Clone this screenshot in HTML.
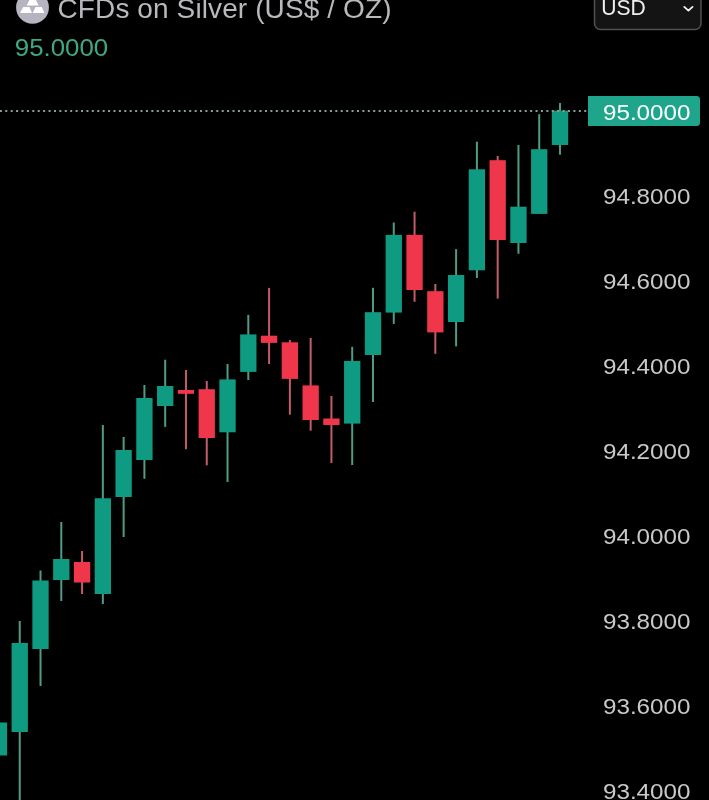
<!DOCTYPE html>
<html><head><meta charset="utf-8"><style>
html,body{margin:0;padding:0;background:#000;width:709px;height:800px;overflow:hidden}
svg{position:absolute;left:0;top:0;display:block;will-change:transform}
text{font-family:"Liberation Sans",sans-serif}
</style></head><body>
<svg width="709" height="800" viewBox="0 0 709 800">
<rect width="709" height="800" fill="#000"/>
<rect x="-2.05" y="722.50" width="2.0" height="33.00" fill="#4e9c86"/>
<rect x="-9.20" y="722.50" width="16.3" height="33.00" fill="#0f9b81"/>
<rect x="18.73" y="621.00" width="2.0" height="184.00" fill="#4e9c86"/>
<rect x="11.58" y="643.00" width="16.3" height="89.00" fill="#0f9b81"/>
<rect x="39.51" y="570.50" width="2.0" height="115.50" fill="#4e9c86"/>
<rect x="32.36" y="580.50" width="16.3" height="68.50" fill="#0f9b81"/>
<rect x="60.29" y="522.00" width="2.0" height="79.00" fill="#4e9c86"/>
<rect x="53.14" y="559.00" width="16.3" height="21.00" fill="#0f9b81"/>
<rect x="81.07" y="551.00" width="2.0" height="43.00" fill="#c25c68"/>
<rect x="73.92" y="562.00" width="16.3" height="20.50" fill="#f0364a"/>
<rect x="101.85" y="425.00" width="2.0" height="179.00" fill="#4e9c86"/>
<rect x="94.70" y="498.25" width="16.3" height="95.75" fill="#0f9b81"/>
<rect x="122.63" y="437.00" width="2.0" height="100.00" fill="#4e9c86"/>
<rect x="115.48" y="450.00" width="16.3" height="47.00" fill="#0f9b81"/>
<rect x="143.41" y="385.00" width="2.0" height="93.80" fill="#4e9c86"/>
<rect x="136.26" y="398.00" width="16.3" height="62.00" fill="#0f9b81"/>
<rect x="164.19" y="359.70" width="2.0" height="67.20" fill="#4e9c86"/>
<rect x="157.04" y="386.00" width="16.3" height="20.00" fill="#0f9b81"/>
<rect x="184.97" y="370.00" width="2.0" height="79.20" fill="#c25c68"/>
<rect x="177.82" y="390.00" width="16.3" height="3.80" fill="#f0364a"/>
<rect x="205.75" y="381.00" width="2.0" height="84.30" fill="#c25c68"/>
<rect x="198.60" y="389.20" width="16.3" height="48.80" fill="#f0364a"/>
<rect x="226.53" y="364.00" width="2.0" height="118.00" fill="#4e9c86"/>
<rect x="219.38" y="379.40" width="16.3" height="52.90" fill="#0f9b81"/>
<rect x="247.31" y="314.90" width="2.0" height="65.10" fill="#4e9c86"/>
<rect x="240.16" y="334.40" width="16.3" height="37.50" fill="#0f9b81"/>
<rect x="268.09" y="287.90" width="2.0" height="76.10" fill="#c25c68"/>
<rect x="260.94" y="335.70" width="16.3" height="7.20" fill="#f0364a"/>
<rect x="288.87" y="340.00" width="2.0" height="74.70" fill="#c25c68"/>
<rect x="281.72" y="342.30" width="16.3" height="36.60" fill="#f0364a"/>
<rect x="309.65" y="338.00" width="2.0" height="92.70" fill="#c25c68"/>
<rect x="302.50" y="385.40" width="16.3" height="34.60" fill="#f0364a"/>
<rect x="330.43" y="396.00" width="2.0" height="67.00" fill="#c25c68"/>
<rect x="323.28" y="418.50" width="16.3" height="6.50" fill="#f0364a"/>
<rect x="351.21" y="346.80" width="2.0" height="118.20" fill="#4e9c86"/>
<rect x="344.06" y="360.90" width="16.3" height="62.70" fill="#0f9b81"/>
<rect x="371.99" y="287.80" width="2.0" height="114.20" fill="#4e9c86"/>
<rect x="364.84" y="312.20" width="16.3" height="42.80" fill="#0f9b81"/>
<rect x="392.77" y="222.50" width="2.0" height="101.40" fill="#4e9c86"/>
<rect x="385.62" y="234.90" width="16.3" height="77.70" fill="#0f9b81"/>
<rect x="413.55" y="211.70" width="2.0" height="90.10" fill="#c25c68"/>
<rect x="406.40" y="234.90" width="16.3" height="55.10" fill="#f0364a"/>
<rect x="434.33" y="284.00" width="2.0" height="69.80" fill="#c25c68"/>
<rect x="427.18" y="291.20" width="16.3" height="41.20" fill="#f0364a"/>
<rect x="455.11" y="249.10" width="2.0" height="97.30" fill="#4e9c86"/>
<rect x="447.96" y="275.00" width="16.3" height="47.00" fill="#0f9b81"/>
<rect x="475.89" y="141.70" width="2.0" height="136.30" fill="#4e9c86"/>
<rect x="468.74" y="169.30" width="16.3" height="101.00" fill="#0f9b81"/>
<rect x="496.67" y="156.00" width="2.0" height="142.60" fill="#c25c68"/>
<rect x="489.52" y="160.20" width="16.3" height="79.80" fill="#f0364a"/>
<rect x="517.45" y="145.00" width="2.0" height="108.80" fill="#4e9c86"/>
<rect x="510.30" y="206.70" width="16.3" height="36.30" fill="#0f9b81"/>
<rect x="538.23" y="114.20" width="2.0" height="99.70" fill="#4e9c86"/>
<rect x="531.08" y="149.20" width="16.3" height="64.70" fill="#0f9b81"/>
<rect x="559.01" y="103.00" width="2.0" height="51.70" fill="#4e9c86"/>
<rect x="551.86" y="110.60" width="16.3" height="34.40" fill="#0f9b81"/>
<g fill="#8a9f99">
<rect x="-0.15" y="110" width="2" height="2"/>
<rect x="5.26" y="110" width="2" height="2"/>
<rect x="10.67" y="110" width="2" height="2"/>
<rect x="16.08" y="110" width="2" height="2"/>
<rect x="21.49" y="110" width="2" height="2"/>
<rect x="26.91" y="110" width="2" height="2"/>
<rect x="32.32" y="110" width="2" height="2"/>
<rect x="37.73" y="110" width="2" height="2"/>
<rect x="43.14" y="110" width="2" height="2"/>
<rect x="48.55" y="110" width="2" height="2"/>
<rect x="53.96" y="110" width="2" height="2"/>
<rect x="59.37" y="110" width="2" height="2"/>
<rect x="64.78" y="110" width="2" height="2"/>
<rect x="70.19" y="110" width="2" height="2"/>
<rect x="75.60" y="110" width="2" height="2"/>
<rect x="81.01" y="110" width="2" height="2"/>
<rect x="86.43" y="110" width="2" height="2"/>
<rect x="91.84" y="110" width="2" height="2"/>
<rect x="97.25" y="110" width="2" height="2"/>
<rect x="102.66" y="110" width="2" height="2"/>
<rect x="108.07" y="110" width="2" height="2"/>
<rect x="113.48" y="110" width="2" height="2"/>
<rect x="118.89" y="110" width="2" height="2"/>
<rect x="124.30" y="110" width="2" height="2"/>
<rect x="129.71" y="110" width="2" height="2"/>
<rect x="135.12" y="110" width="2" height="2"/>
<rect x="140.54" y="110" width="2" height="2"/>
<rect x="145.95" y="110" width="2" height="2"/>
<rect x="151.36" y="110" width="2" height="2"/>
<rect x="156.77" y="110" width="2" height="2"/>
<rect x="162.18" y="110" width="2" height="2"/>
<rect x="167.59" y="110" width="2" height="2"/>
<rect x="173.00" y="110" width="2" height="2"/>
<rect x="178.41" y="110" width="2" height="2"/>
<rect x="183.82" y="110" width="2" height="2"/>
<rect x="189.23" y="110" width="2" height="2"/>
<rect x="194.65" y="110" width="2" height="2"/>
<rect x="200.06" y="110" width="2" height="2"/>
<rect x="205.47" y="110" width="2" height="2"/>
<rect x="210.88" y="110" width="2" height="2"/>
<rect x="216.29" y="110" width="2" height="2"/>
<rect x="221.70" y="110" width="2" height="2"/>
<rect x="227.11" y="110" width="2" height="2"/>
<rect x="232.52" y="110" width="2" height="2"/>
<rect x="237.93" y="110" width="2" height="2"/>
<rect x="243.34" y="110" width="2" height="2"/>
<rect x="248.76" y="110" width="2" height="2"/>
<rect x="254.17" y="110" width="2" height="2"/>
<rect x="259.58" y="110" width="2" height="2"/>
<rect x="264.99" y="110" width="2" height="2"/>
<rect x="270.40" y="110" width="2" height="2"/>
<rect x="275.81" y="110" width="2" height="2"/>
<rect x="281.22" y="110" width="2" height="2"/>
<rect x="286.63" y="110" width="2" height="2"/>
<rect x="292.04" y="110" width="2" height="2"/>
<rect x="297.45" y="110" width="2" height="2"/>
<rect x="302.87" y="110" width="2" height="2"/>
<rect x="308.28" y="110" width="2" height="2"/>
<rect x="313.69" y="110" width="2" height="2"/>
<rect x="319.10" y="110" width="2" height="2"/>
<rect x="324.51" y="110" width="2" height="2"/>
<rect x="329.92" y="110" width="2" height="2"/>
<rect x="335.33" y="110" width="2" height="2"/>
<rect x="340.74" y="110" width="2" height="2"/>
<rect x="346.15" y="110" width="2" height="2"/>
<rect x="351.56" y="110" width="2" height="2"/>
<rect x="356.98" y="110" width="2" height="2"/>
<rect x="362.39" y="110" width="2" height="2"/>
<rect x="367.80" y="110" width="2" height="2"/>
<rect x="373.21" y="110" width="2" height="2"/>
<rect x="378.62" y="110" width="2" height="2"/>
<rect x="384.03" y="110" width="2" height="2"/>
<rect x="389.44" y="110" width="2" height="2"/>
<rect x="394.85" y="110" width="2" height="2"/>
<rect x="400.26" y="110" width="2" height="2"/>
<rect x="405.68" y="110" width="2" height="2"/>
<rect x="411.09" y="110" width="2" height="2"/>
<rect x="416.50" y="110" width="2" height="2"/>
<rect x="421.91" y="110" width="2" height="2"/>
<rect x="427.32" y="110" width="2" height="2"/>
<rect x="432.73" y="110" width="2" height="2"/>
<rect x="438.14" y="110" width="2" height="2"/>
<rect x="443.55" y="110" width="2" height="2"/>
<rect x="448.96" y="110" width="2" height="2"/>
<rect x="454.37" y="110" width="2" height="2"/>
<rect x="459.78" y="110" width="2" height="2"/>
<rect x="465.20" y="110" width="2" height="2"/>
<rect x="470.61" y="110" width="2" height="2"/>
<rect x="476.02" y="110" width="2" height="2"/>
<rect x="481.43" y="110" width="2" height="2"/>
<rect x="486.84" y="110" width="2" height="2"/>
<rect x="492.25" y="110" width="2" height="2"/>
<rect x="497.66" y="110" width="2" height="2"/>
<rect x="503.07" y="110" width="2" height="2"/>
<rect x="508.48" y="110" width="2" height="2"/>
<rect x="513.89" y="110" width="2" height="2"/>
<rect x="519.31" y="110" width="2" height="2"/>
<rect x="524.72" y="110" width="2" height="2"/>
<rect x="530.13" y="110" width="2" height="2"/>
<rect x="535.54" y="110" width="2" height="2"/>
<rect x="540.95" y="110" width="2" height="2"/>
<rect x="546.36" y="110" width="2" height="2"/>
<rect x="551.77" y="110" width="2" height="2"/>
<rect x="557.18" y="110" width="2" height="2"/>
<rect x="562.59" y="110" width="2" height="2"/>
<rect x="568.00" y="110" width="2" height="2"/>
<rect x="573.42" y="110" width="2" height="2"/>
<rect x="578.83" y="110" width="2" height="2"/>
<rect x="584.24" y="110" width="2" height="2"/>
</g>
<!-- last price label -->
<path d="M588 96 H696.5 A3.5 3.5 0 0 1 700 99.5 V122.5 A3.5 3.5 0 0 1 696.5 126 H588 Z" fill="#1fa58c"/>
<text transform="translate(603.0,119.5) scale(1.1,1)" fill="#ffffff" font-size="22">95.0000</text>
<g fill="#c9c9cc" font-size="22">
<text transform="translate(603.0,204.00) scale(1.1,1)">94.8000</text>
<text transform="translate(603.0,288.93) scale(1.1,1)">94.6000</text>
<text transform="translate(603.0,373.86) scale(1.1,1)">94.4000</text>
<text transform="translate(603.0,458.79) scale(1.1,1)">94.2000</text>
<text transform="translate(603.0,543.72) scale(1.1,1)">94.0000</text>
<text transform="translate(603.0,628.65) scale(1.1,1)">93.8000</text>
<text transform="translate(603.0,713.58) scale(1.1,1)">93.6000</text>
<text transform="translate(603.0,798.51) scale(1.1,1)">93.4000</text>
</g>
<!-- header -->
<circle cx="32.5" cy="7.4" r="16.4" fill="#b5b4c0"/>
<g fill="#ffffff">
<path d="M26.7 5.5 L38.6 5.5 L35.8 -0.3 L29.6 -0.3 Z"/>
<path d="M20 12.9 L32 12.9 L29.5 7.1 L23.3 7.1 Z"/>
<path d="M32.7 12.9 L44.3 12.9 L41.8 7.1 L35.6 7.1 Z"/>
</g>
<text x="57.5" y="17.8" font-size="28" fill="#b9b9bd" textLength="334" lengthAdjust="spacing">CFDs on Silver (US$ / OZ)</text>
<text transform="translate(14.8,55.9) scale(1.10,1)" font-size="23.5" fill="#3ea884">95.0000</text>
<!-- USD dropdown -->
<rect x="594.5" y="-8" width="106.5" height="37.5" rx="6" ry="6" fill="#141414" stroke="#505050" stroke-width="1.5"/>
<text transform="translate(601.3,14.9) scale(0.96,1)" font-size="22" fill="#f0f0f0">USD</text>
<path d="M684.3 6.9 L688.4 10.6 L692.5 6.9" fill="none" stroke="#f0f0f0" stroke-width="1.9" stroke-linecap="round" stroke-linejoin="round"/>
</svg>
</body></html>
